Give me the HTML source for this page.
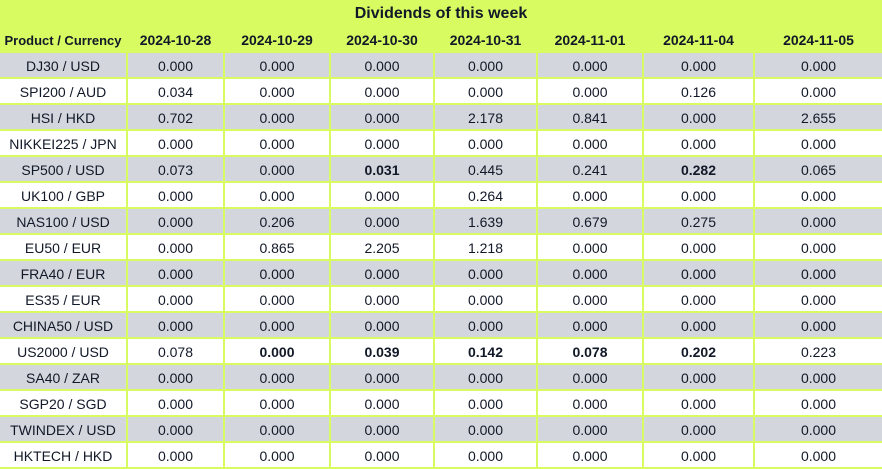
<!DOCTYPE html>
<html><head><meta charset="utf-8"><style>
body{margin:0;width:882px;height:469px;overflow:hidden;background:#d8fb62;font-family:"Liberation Sans","DejaVu Sans",sans-serif;color:#111827;}
#title{position:absolute;left:0;top:0;width:882px;height:28px;line-height:28px;text-align:center;font-weight:bold;font-size:16px;}
.c{position:absolute;box-sizing:border-box;text-align:center;font-size:14px;line-height:26px;border-left:2px solid #d8fb62;border-bottom:2px solid #d8fb62;}
.h{font-weight:bold;background:#d8fb62;line-height:27px;font-size:14px;}
.g{background:#d3d6dd}.w{background:#fff}
.b{font-weight:bold}
</style></head><body>
<div id="title">Dividends of this week</div>
<div id="tbl"></div>
<script>
const edges=[0,126,223,329,433,536,642,753,882];
const dates=["2024-10-28","2024-10-29","2024-10-30","2024-10-31","2024-11-01","2024-11-04","2024-11-05"];
const products=["DJ30 / USD","SPI200 / AUD","HSI / HKD","NIKKEI225 / JPN","SP500 / USD","UK100 / GBP","NAS100 / USD","EU50 / EUR","FRA40 / EUR","ES35 / EUR","CHINA50 / USD","US2000 / USD","SA40 / ZAR","SGP20 / SGD","TWINDEX / USD","HKTECH / HKD"];
const values=[
["0.000","0.000","0.000","0.000","0.000","0.000","0.000"],
["0.034","0.000","0.000","0.000","0.000","0.126","0.000"],
["0.702","0.000","0.000","2.178","0.841","0.000","2.655"],
["0.000","0.000","0.000","0.000","0.000","0.000","0.000"],
["0.073","0.000","0.031","0.445","0.241","0.282","0.065"],
["0.000","0.000","0.000","0.264","0.000","0.000","0.000"],
["0.000","0.206","0.000","1.639","0.679","0.275","0.000"],
["0.000","0.865","2.205","1.218","0.000","0.000","0.000"],
["0.000","0.000","0.000","0.000","0.000","0.000","0.000"],
["0.000","0.000","0.000","0.000","0.000","0.000","0.000"],
["0.000","0.000","0.000","0.000","0.000","0.000","0.000"],
["0.078","0.000","0.039","0.142","0.078","0.202","0.223"],
["0.000","0.000","0.000","0.000","0.000","0.000","0.000"],
["0.000","0.000","0.000","0.000","0.000","0.000","0.000"],
["0.000","0.000","0.000","0.000","0.000","0.000","0.000"],
["0.000","0.000","0.000","0.000","0.000","0.000","0.000"]];
const bold=[[4,2],[4,5],[11,1],[11,2],[11,3],[11,4],[11,5]];
const tbl=document.getElementById('tbl');
function cell(x0,x1,y,h,txt,cls){
  const d=document.createElement('div');
  d.className='c '+cls;
  d.style.left=x0+'px';d.style.width=(x1-x0)+'px';d.style.top=y+'px';d.style.height=h+'px';
  d.textContent=txt;tbl.appendChild(d);return d;
}
let hd=cell(0,edges[1],27,26,"Product / Currency","h");
hd.style.borderLeft='none';
hd.style.fontSize='13px';


dates.forEach((dt,i)=>{
  const d=cell(edges[i+1],edges[i+2],27,26,dt,"h");
  
  
});
products.forEach((p,r)=>{
  const y=53+r*26, cls=r%2===0?'g':'w';
  const d=cell(0,edges[1],y,26,p,cls);
  d.style.borderLeft='none';
  
  
  values[r].forEach((v,c)=>{
    const isB=bold.some(b=>b[0]===r&&b[1]===c);
    const e=cell(edges[c+1],edges[c+2],y,26,v,cls+(isB?' b':''));
    
    
  });
});
</script>
</body></html>
